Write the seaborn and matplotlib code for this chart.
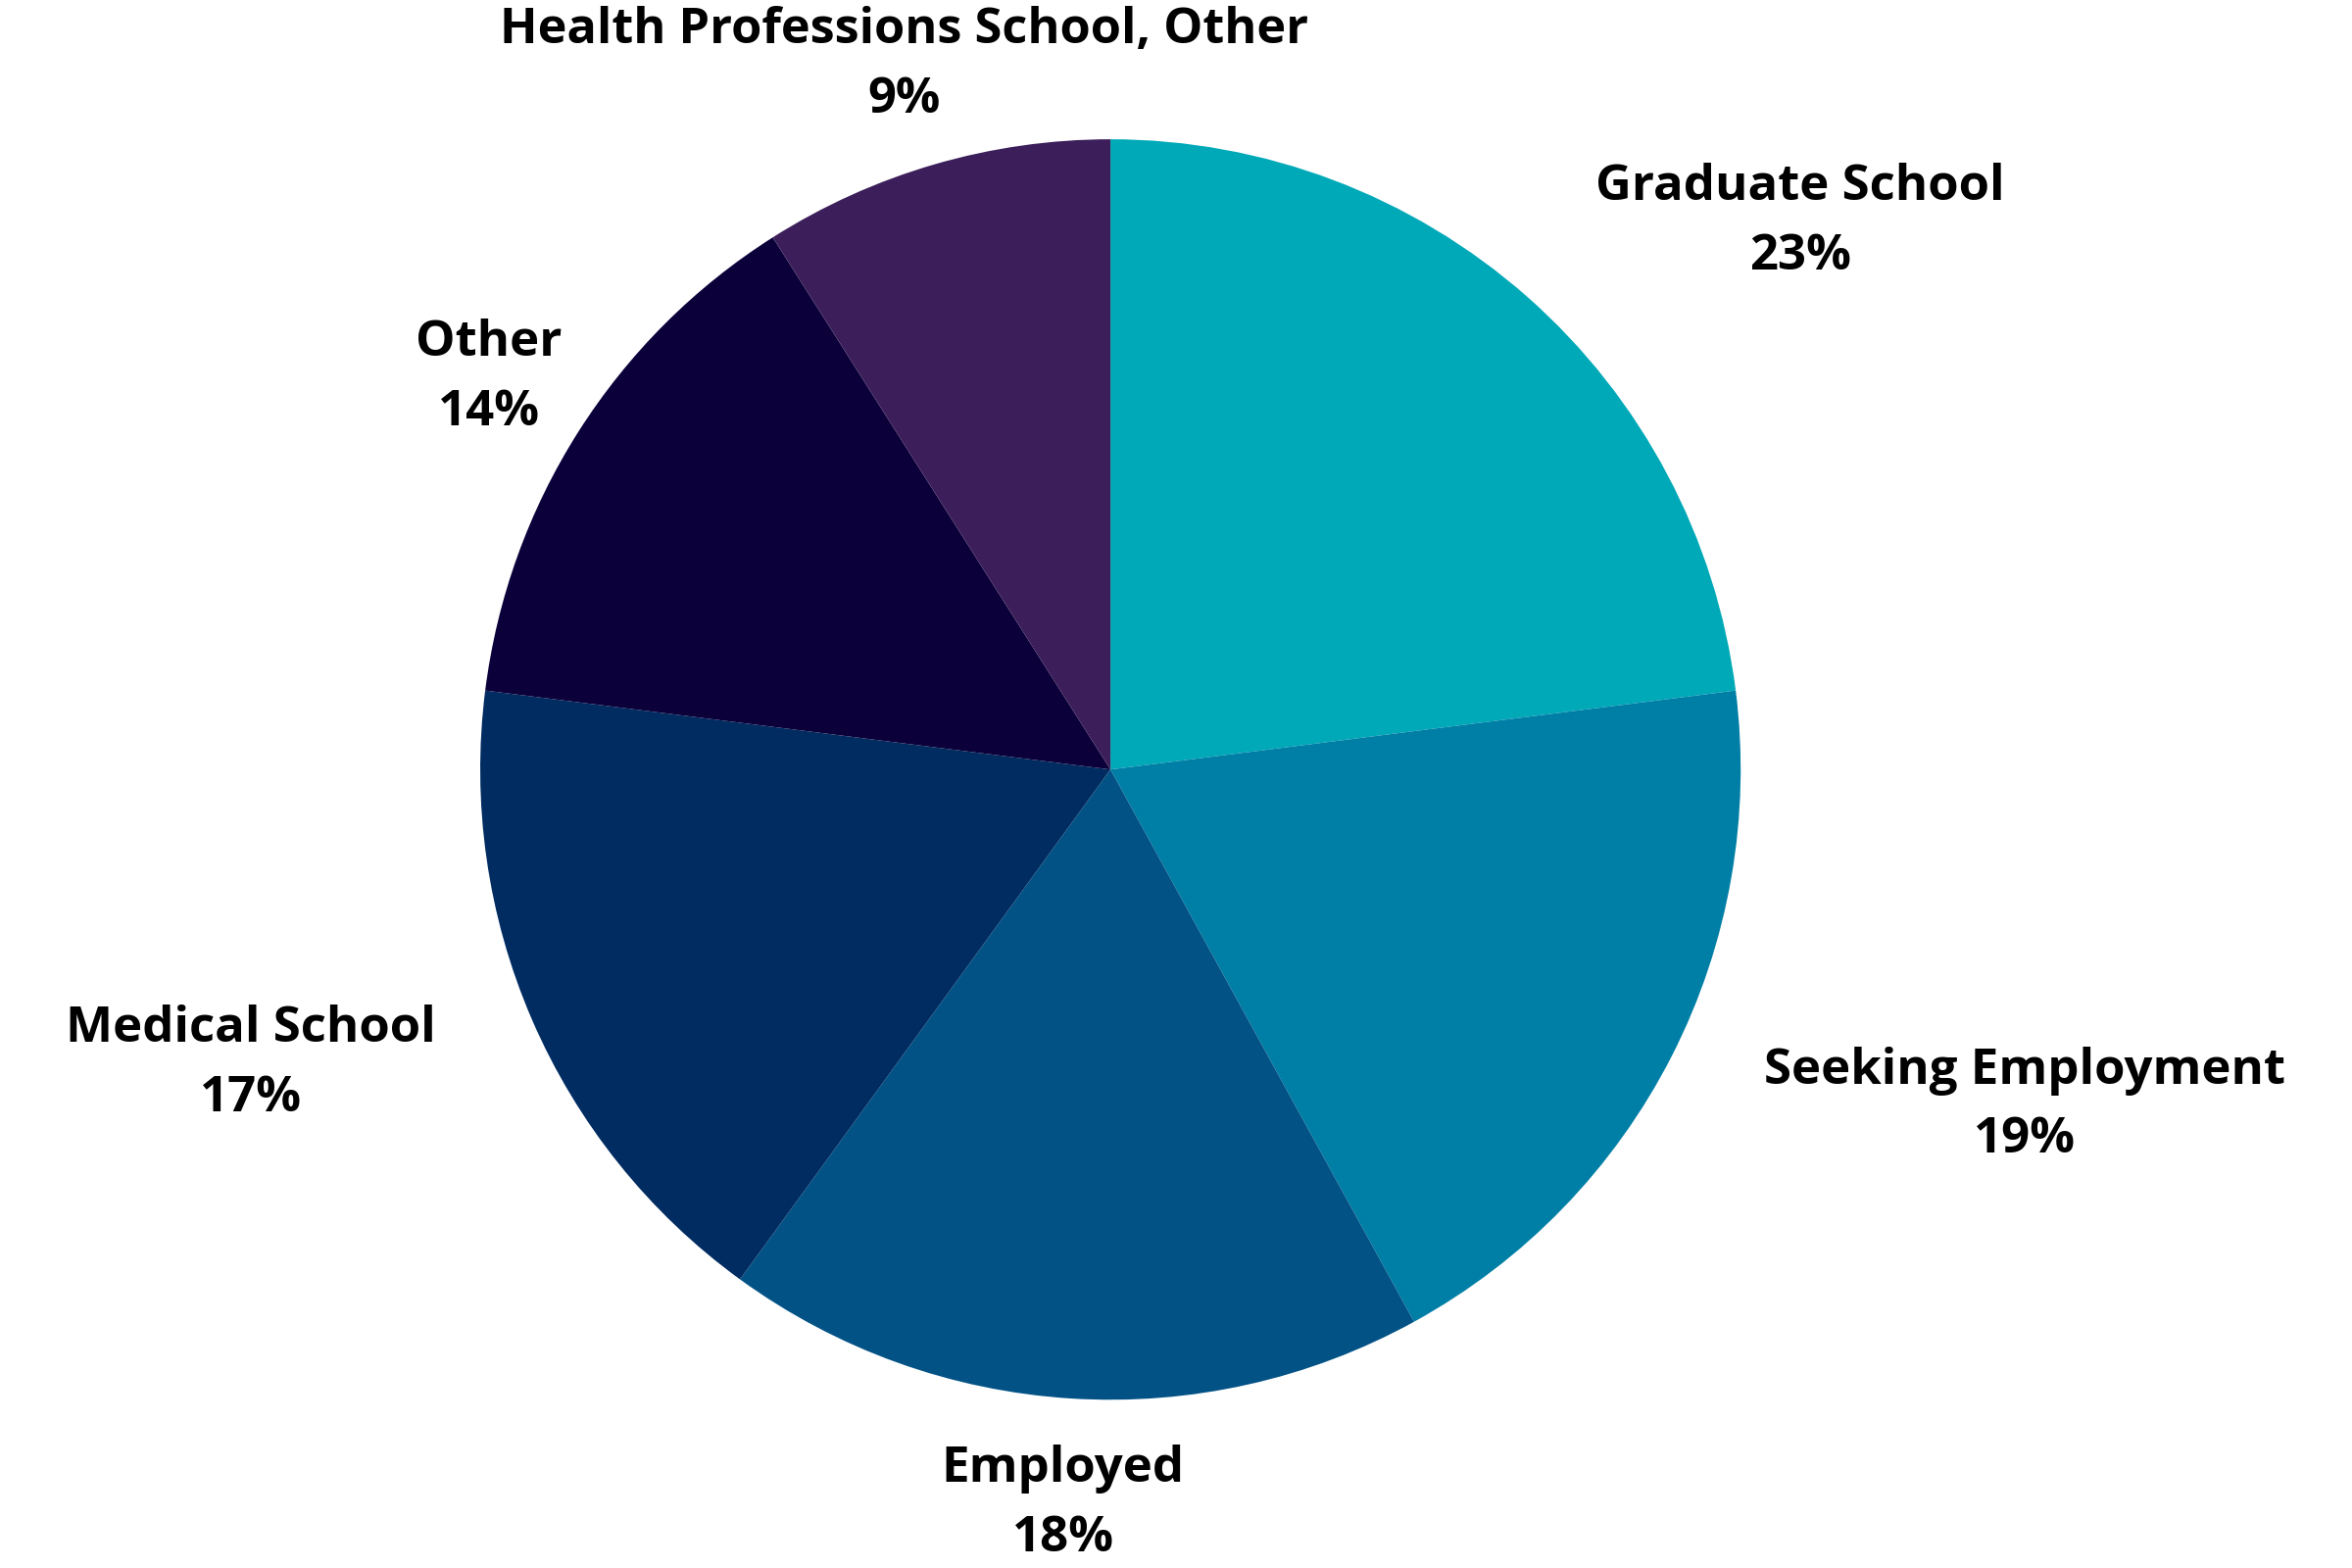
import matplotlib
matplotlib.use("Agg")
import matplotlib.pyplot as plt
import seaborn as sns

sns.set_theme(style="white")
plt.rcParams['font.family'] = ['Open Sans', 'DejaVu Sans']

categories = ["Graduate School", "Seeking Employment", "Employed",
              "Medical School", "Other", "Health Professions School, Other"]
shares = [23, 19, 18, 17, 14, 9]
colors = ["#00A9B7", "#007FA6", "#025286", "#002C61", "#0B0039", "#3C1F5A"]

# label anchor positions (data units, pie radius = 1)
label_pos = [(1.095, 0.869), (1.451, -0.533), (-0.075, -1.165),
             (-1.364, -0.467), (-0.986, 0.621), (-0.328, 1.117)]
label_size = [18.3, 18.3, 18.3, 18.3, 18.3, 18.2]

fig = plt.figure(figsize=(12, 8), dpi=200)
ax = fig.add_axes([0, 0, 1, 1])
ax.pie(shares, colors=colors, startangle=90, counterclock=False, radius=1,
       wedgeprops=dict(linewidth=0))
ax.set_aspect('equal')
ax.set_xlim(-1.762, 1.970)
ax.set_ylim(-1.267, 1.221)
ax.axis('off')

for cat, val, (x, y), fs in zip(categories, shares, label_pos, label_size):
    ax.text(x, y, f"{cat}\n{val}%", ha='center', va='center', fontsize=fs,
            fontweight='bold', color='black', linespacing=1.55)

fig.savefig("out.png", dpi=200, facecolor='white')
